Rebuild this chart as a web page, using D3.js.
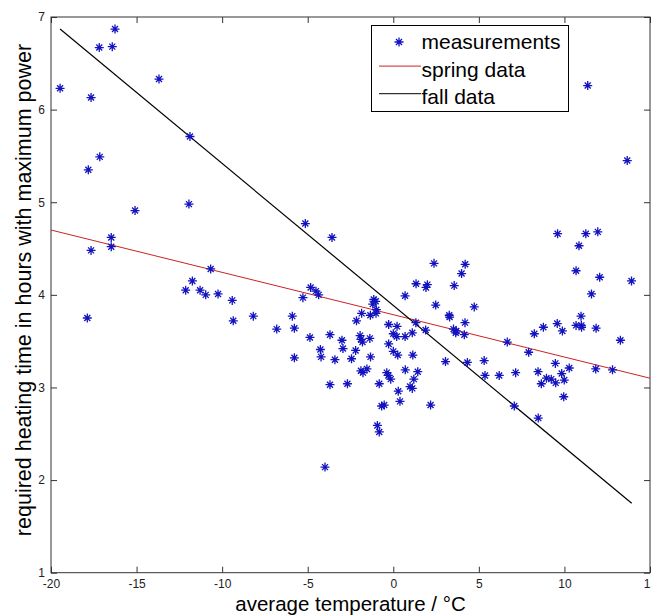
<!DOCTYPE html>
<html>
<head>
<meta charset="utf-8">
<script src="https://cdn.jsdelivr.net/npm/d3@7"></script>
<style>
  html, body { margin: 0; padding: 0; background: #fff; overflow: hidden; }
  text { font-family: Arial, "Liberation Sans", sans-serif; }
</style>
</head>
<body>
<svg id="chart" width="651" height="615"></svg>
<script>
// Axis ticks
const xTicks = [-20, -15, -10, -5, 0, 5, 10, 15];
const yTicks = [1, 2, 3, 4, 5, 6, 7];

// Measurements: [average temperature °C, required heating time h]
const measurements = [
  [-16.26, 6.87], [-17.18, 6.67], [-16.42, 6.68], [-19.47, 6.23], [-17.66, 6.13],
  [-13.69, 6.33], [-11.88, 5.71], [-17.15, 5.49], [-17.82, 5.35], [-11.94, 4.98],
  [-15.09, 4.91], [-16.48, 4.62], [-16.48, 4.52], [-17.66, 4.48], [-10.67, 4.28],
  [-11.74, 4.15], [-12.13, 4.05], [-11.29, 4.05], [-10.96, 4.00], [-10.24, 4.01],
  [-9.41, 3.94], [-17.88, 3.75], [-9.35, 3.72],
  [-8.18, 3.77], [-6.81, 3.63], [-5.90, 3.77], [-5.78, 3.64], [-5.78, 3.32],
  [-5.14, 4.77], [-3.58, 4.62], [-5.28, 3.97], [-4.83, 4.08], [-4.52, 4.04],
  [-4.36, 4.00], [-4.87, 3.54], [-3.70, 3.57], [-4.26, 3.41], [-4.22, 3.33],
  [-3.41, 3.30], [-3.00, 3.51], [-2.94, 3.42], [-2.44, 3.31], [-3.70, 3.03],
  [-2.68, 3.04], [-2.20, 3.40], [-2.15, 3.72], [-1.85, 3.80], [-1.34, 3.78],
  [-1.14, 3.95], [-1.03, 3.93], [-1.20, 3.90], [-0.99, 3.84], [-1.01, 3.80],
  [-1.94, 3.56], [-1.89, 3.52], [-1.80, 3.49], [-1.37, 3.53], [-1.33, 3.33],
  [-1.89, 3.18], [-1.77, 3.16], [-1.54, 3.20], [-0.82, 3.04], [-0.68, 2.80],
  [-0.53, 2.81], [-0.93, 2.59], [-0.82, 2.52], [-3.99, 2.14],
  [-0.38, 3.16], [-0.29, 3.13], [-0.15, 3.09], [-0.27, 3.68], [0.22, 3.66],
  [-0.27, 3.47], [0.00, 3.58], [0.20, 3.55], [0.69, 3.55], [1.11, 3.59],
  [1.32, 3.70], [1.89, 3.62], [0.00, 3.39], [0.26, 3.35], [1.14, 3.35],
  [0.70, 3.19], [1.43, 3.17], [1.20, 3.09], [0.98, 3.01], [1.11, 2.99],
  [0.29, 2.96], [0.39, 2.85], [2.18, 2.81], [0.69, 3.99], [1.33, 4.12],
  [1.99, 4.11], [1.91, 4.08], [2.38, 4.34], [4.20, 4.33], [3.99, 4.23],
  [3.56, 4.10], [2.48, 3.89], [4.73, 3.87], [3.27, 3.78], [3.29, 3.76],
  [4.19, 3.70], [3.52, 3.63], [3.68, 3.61], [3.65, 3.59], [4.15, 3.57],
  [6.66, 3.49], [3.05, 3.28], [4.33, 3.27], [5.31, 3.29], [5.36, 3.13],
  [6.19, 3.13], [7.15, 3.16], [7.07, 2.80], [7.91, 3.38], [8.24, 3.58],
  [8.77, 3.65], [9.58, 3.69], [9.88, 3.61], [10.68, 3.67], [10.99, 3.67],
  [11.00, 3.65], [10.97, 3.77], [11.85, 3.64], [13.27, 3.51], [9.47, 3.26],
  [10.28, 3.21], [11.83, 3.20], [12.81, 3.19], [8.46, 3.17], [9.84, 3.15],
  [8.95, 3.10], [9.23, 3.09], [9.99, 3.08], [8.65, 3.04], [9.49, 3.05],
  [9.96, 2.90], [8.47, 2.67], [9.60, 4.66], [11.25, 4.66], [11.95, 4.68],
  [10.85, 4.53], [10.68, 4.26], [12.06, 4.19], [13.92, 4.15], [11.58, 4.01],
  [11.36, 6.26], [13.67, 5.45]
];

// Fitted regression lines (end points)
const springFit = [[-20, 4.70], [15, 3.10]];
const fallFit = [[-19.47, 6.87], [13.93, 1.75]];

const legendLabels = ["measurements", "spring data", "fall data"];

const svg = d3.select("#chart");
const plot = { left: 51, right: 650, top: 17, bottom: 572.7 };

const x = d3.scaleLinear().domain([-20, 15]).range([plot.left, plot.right]);
const y = d3.scaleLinear().domain([1, 7]).range([plot.bottom, plot.top]);

const axisColor = "#333";
const tickText = d => (d < 0 ? "-" : "") + Math.abs(d);

// Bottom axis with labels, inward ticks
const gx = svg.append("g")
  .attr("transform", `translate(0,${plot.bottom})`)
  .call(d3.axisBottom(x).tickValues(xTicks).tickSizeInner(-6).tickSizeOuter(0)
    .tickPadding(6.5).tickFormat(tickText));
// Top axis, ticks only
const gxt = svg.append("g")
  .attr("transform", `translate(0,${plot.top})`)
  .call(d3.axisTop(x).tickValues(xTicks).tickSizeInner(-6).tickSizeOuter(0).tickFormat(""));
// Left axis with labels
const gy = svg.append("g")
  .attr("transform", `translate(${plot.left},0)`)
  .call(d3.axisLeft(y).tickValues(yTicks).tickSizeInner(-6).tickSizeOuter(0)
    .tickPadding(6).tickFormat(tickText));
// Right axis, ticks only
const gyr = svg.append("g")
  .attr("transform", `translate(${plot.right},0)`)
  .call(d3.axisRight(y).tickValues(yTicks).tickSizeInner(-6).tickSizeOuter(0).tickFormat(""));

[gx, gxt, gy, gyr].forEach(g => {
  g.select(".domain").remove();
  g.selectAll("line").attr("stroke", axisColor);
  g.selectAll("text")
    .attr("fill", "#222")
    .style("font-size", "12px")
    .style("font-family", "Arial, 'Liberation Sans', sans-serif");
});

// Frame
svg.append("rect")
  .attr("x", x(-20)).attr("y", y(7))
  .attr("width", x(15) - x(-20)).attr("height", y(1) - y(7))
  .attr("fill", "none").attr("stroke", axisColor).attr("stroke-width", 1);

// Regression lines
const line = d3.line().x(d => x(d[0])).y(d => y(d[1]));
svg.append("path").datum(springFit).attr("d", line)
  .attr("fill", "none").attr("stroke", "#cc2222").attr("stroke-width", 1);
svg.append("path").datum(fallFit).attr("d", line)
  .attr("fill", "none").attr("stroke", "#000").attr("stroke-width", 1.2);

// Star marker (plus and cross combined)
const starPath = "M0,-4.5V4.5M-4.5,0H4.5M-3,-3L3,3M-3,3L3,-3";
const markColor = "#1212bf";

svg.append("g").selectAll("path")
  .data(measurements)
  .join("path")
  .attr("transform", d => `translate(${x(d[0])},${y(d[1])})`)
  .attr("d", starPath)
  .attr("fill", "none")
  .attr("stroke", markColor)
  .attr("stroke-width", 1.3);

// Axis titles
svg.append("text")
  .attr("x", (plot.left + plot.right) / 2).attr("y", 610.5)
  .attr("text-anchor", "middle")
  .style("font-size", "20.5px").attr("fill", "#000")
  .text("average temperature / °C");

svg.append("text")
  .attr("transform", `translate(31,290) rotate(-90)`)
  .attr("text-anchor", "middle")
  .style("font-size", "21.5px").attr("fill", "#000")
  .text("required heating time in hours with maximum power");

// Legend
const legend = svg.append("g").attr("transform", "translate(371.5,25.5)");
legend.append("rect")
  .attr("width", 197).attr("height", 86)
  .attr("fill", "#fff").attr("stroke", "#000").attr("stroke-width", 1);

const rows = legend.selectAll("g.row")
  .data(legendLabels)
  .join("g")
  .attr("class", "row")
  .attr("transform", (d, i) => `translate(0,${16.5 + i * 27.6})`);

rows.append("text")
  .attr("x", 50).attr("y", 7)
  .style("font-size", "21px").attr("fill", "#000")
  .text(d => d);

rows.filter((d, i) => i === 0).append("path")
  .attr("transform", "translate(27.5,0)")
  .attr("d", starPath)
  .attr("fill", "none").attr("stroke", markColor).attr("stroke-width", 1.3);

rows.filter((d, i) => i > 0).append("line")
  .attr("x1", 7.5).attr("x2", 49.5).attr("y1", -3.5).attr("y2", -3.5)
  .attr("stroke", (d, i) => i === 0 ? "#cc2222" : "#000")
  .attr("stroke-width", 1);
</script>
</body>
</html>
